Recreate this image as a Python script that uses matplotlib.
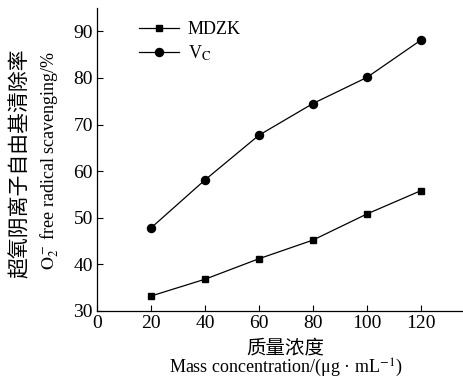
import matplotlib
matplotlib.use("Agg")
import matplotlib.pyplot as plt

conc = [20, 40, 60, 80, 100, 120]
mdzk = [33.2, 36.8, 41.2, 45.2, 50.8, 55.8]
vc = [47.8, 58.1, 67.7, 74.5, 80.1, 88.1]

plt.rcParams['font.family'] = ['Liberation Serif', 'Noto Sans CJK SC']
plt.rcParams['mathtext.fontset'] = 'stix'

fig = plt.figure(figsize=(4.64, 3.82), dpi=100)
ax = fig.add_axes([0.209, 0.186, 0.791, 0.793])

ax.plot(conc, mdzk, color='black', lw=0.9, marker='s', ms=5, label='MDZK')
ax.plot(conc, vc, color='black', lw=0.9, marker='o', ms=5.8, label='V$_\\mathrm{C}$')

ax.set_xlim(0, 136)
ax.set_ylim(30, 95)
ax.set_xticks([0, 20, 40, 60, 80, 100, 120])
ax.set_yticks([30, 40, 50, 60, 70, 80, 90])
ax.tick_params(direction='in', labelsize=14, length=4, width=0.8, pad=3)
for s in ['top', 'right']:
    ax.spines[s].set_visible(False)
for s in ['left', 'bottom']:
    ax.spines[s].set_linewidth(0.9)

ax.legend(loc='upper left', bbox_to_anchor=(0.07, 1.01), frameon=False,
          fontsize=13, handlelength=2.2, labelspacing=0.3, handletextpad=0.5)

fig.text(0.043, 0.572, '超氧阴离子自由基清除率', rotation=90, ha='center', va='center',
         fontsize=15, family='Noto Sans CJK SC')
fig.text(0.107, 0.58, '$\\mathrm{O}_2^-$ free radical scavenging/%', rotation=90,
         ha='center', va='center', fontsize=13)
fig.text(0.615, 0.09, '质量浓度', ha='center', va='center', fontsize=14,
         family='Noto Sans CJK SC')
fig.text(0.615, 0.036, 'Mass concentration/(μg · mL$^{-1}$)', ha='center', va='center',
         fontsize=13)

fig.savefig('out.png', dpi=100)
